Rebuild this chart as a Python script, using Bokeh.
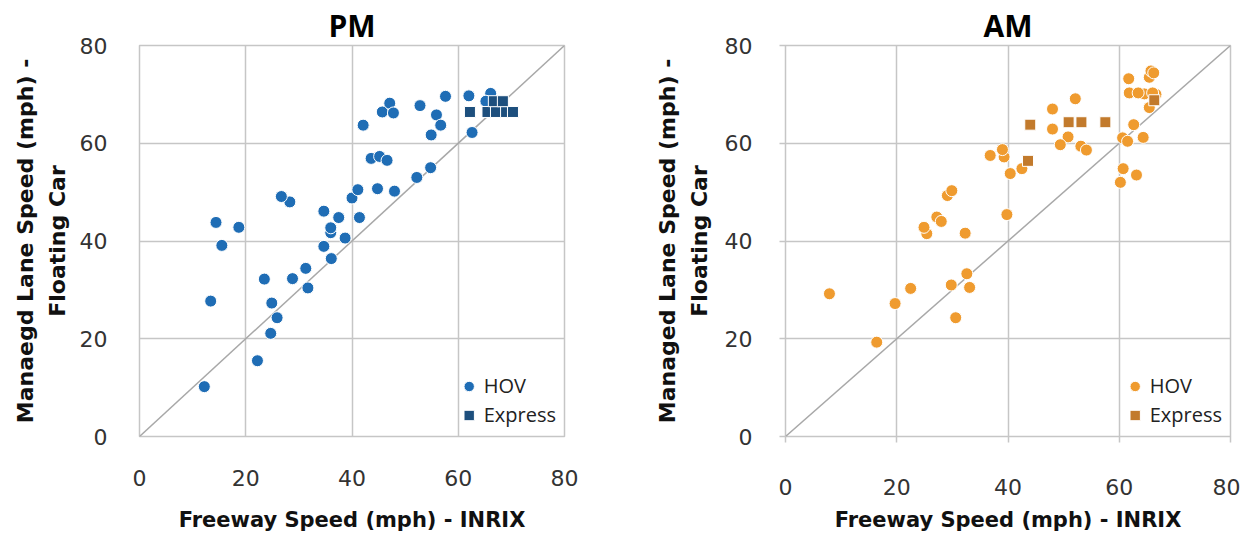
from bokeh.plotting import figure
from bokeh.layouts import row
from bokeh.models import Range1d, FixedTicker
from bokeh.embed import file_html
from bokeh.resources import INLINE

# ---------------- data ----------------
axis_ticks = [0, 20, 40, 60, 80]
ref_line = [0, 80]

pm_hov_x = [12.2, 22.2, 24.7, 25.9, 24.9, 13.4, 23.5, 28.8, 31.7, 31.3, 36.1, 34.7, 15.5,
            38.7, 36.0, 36.0, 18.7, 14.4, 37.5, 41.4, 34.7, 28.3, 26.7, 40.0, 41.1, 44.8,
            48.0, 52.2, 54.8, 43.6, 45.2, 46.6, 42.1, 45.7, 47.1, 47.8, 52.8, 55.9, 56.7,
            54.9, 57.6, 62.0, 62.6, 66.1, 65.2]
pm_hov_y = [10.2, 15.5, 21.1, 24.3, 27.3, 27.7, 32.2, 32.3, 30.4, 34.4, 36.4, 38.9, 39.1,
            40.6, 41.7, 42.7, 42.8, 43.8, 44.8, 44.8, 46.1, 48.0, 49.1, 48.8, 50.5, 50.7,
            50.2, 53.0, 55.0, 56.9, 57.3, 56.5, 63.7, 66.4, 68.2, 66.2, 67.7, 65.8, 63.7,
            61.7, 69.6, 69.7, 62.2, 70.2, 68.6]
pm_exp_x = [62.2, 65.5, 67.1, 69.0, 70.3, 66.7, 68.4]
pm_exp_y = [66.4, 66.4, 66.4, 66.4, 66.4, 68.6, 68.6]

am_hov_x = [7.9, 16.4, 19.7, 22.5, 29.8, 30.6, 33.1, 32.6, 32.3, 25.4, 24.9, 27.2, 28.0,
            29.1, 29.9, 39.8, 36.8, 39.3, 39.0, 40.4, 42.5, 48.0, 48.0, 50.8, 49.4, 52.1,
            53.1, 54.1, 60.2, 60.7, 63.1, 60.6, 61.5, 64.3, 62.6, 61.7, 61.8, 64.5, 66.6,
            65.4, 65.7, 66.2, 65.4, 63.4, 66.0]
am_hov_y = [29.2, 19.3, 27.2, 30.3, 31.0, 24.3, 30.5, 33.3, 41.6, 41.5, 42.8, 44.9, 44.0,
            49.3, 50.3, 45.4, 57.5, 57.2, 58.7, 53.8, 54.8, 67.0, 62.9, 61.3, 59.7, 69.1,
            59.4, 58.6, 52.0, 54.8, 53.5, 61.1, 60.4, 61.2, 63.8, 73.2, 70.3, 70.1, 70.0,
            73.5, 74.8, 74.4, 67.3, 70.3, 70.3]
am_exp_x = [44.0, 43.6, 50.9, 53.2, 57.5, 66.3]
am_exp_y = [63.8, 56.4, 64.3, 64.3, 64.3, 68.8]

GRID = "#C6C6C6"
TICK_FONT = "DejaVu Sans"
LABEL_FONT = "DejaVu Sans"


def make_fig(title, hx, hy, ex, ey, hcol, ecol, ylabel, width, height,
             bl, br, bt, bb, ticks_out, xstand, ystand, ylab_stand, xlab_stand):
    p = figure(width=width, height=height, x_range=Range1d(0, 80), y_range=Range1d(0, 80),
               output_backend="svg", toolbar_location=None, title=title,
               min_border_left=bl, min_border_right=br, min_border_top=bt,
               min_border_bottom=bb)
    p.title.align = "center"
    p.title.text_font = "Open Sans"
    p.title.text_font_size = "30px"
    p.title.text_font_style = "bold"
    p.title.text_color = "#000000"
    p.title.standoff = 0
    p.title.offset = 0

    for ax in (p.xaxis[0], p.yaxis[0]):
        ax.ticker = FixedTicker(ticks=axis_ticks)
        ax.axis_line_color = None
        ax.minor_tick_line_color = None
        if ticks_out:
            ax.major_tick_line_color = GRID
            ax.major_tick_line_width = 1.5
            ax.major_tick_out = 6
            ax.major_tick_in = 0
        else:
            ax.major_tick_line_color = None
            ax.major_tick_out = 0
            ax.major_tick_in = 0
        ax.major_label_text_font = TICK_FONT
        ax.major_label_text_font_size = "22px"
        ax.major_label_text_color = "#333333"
        ax.axis_label_text_font = LABEL_FONT
        ax.axis_label_text_font_style = "bold"
        ax.axis_label_text_color = "#111111"
    p.xaxis[0].axis_label_text_font_size = "21px"
    p.yaxis[0].axis_label_text_font_size = "22px"
    p.xaxis[0].major_label_standoff = xstand
    p.yaxis[0].major_label_standoff = ystand
    p.xaxis[0].axis_label = "Freeway Speed (mph) - INRIX"
    p.yaxis[0].axis_label = ylabel
    p.yaxis[0].axis_label_text_line_height = 1.25
    p.yaxis[0].axis_label_standoff = ylab_stand
    p.xaxis[0].axis_label_standoff = xlab_stand

    p.grid.grid_line_color = GRID
    p.grid.grid_line_width = 1.5
    p.outline_line_color = GRID
    p.outline_line_width = 1.5
    p.background_fill_color = "white"
    p.border_fill_color = "white"

    p.line(ref_line, ref_line, line_color="#A8A8A8", line_width=1.5)

    p.scatter(hx, hy, marker="circle", size=12, fill_color=hcol, line_color="white",
              line_width=1, legend_label="HOV")
    p.scatter(ex, ey, marker="square", size=11, fill_color=ecol, line_color="white",
              line_width=1, legend_label="Express")

    lg = p.legend[0]
    lg.location = "bottom_right"
    lg.background_fill_alpha = 0
    lg.border_line_alpha = 0
    lg.label_text_font = "Open Sans"
    lg.label_text_font_size = "20px"
    lg.label_text_color = "#222222"
    lg.glyph_width = 26
    lg.glyph_height = 26
    lg.label_height = 26
    lg.label_standoff = 2
    lg.spacing = 2
    lg.margin = 3
    lg.padding = 5
    return p


p1 = make_fig("PM", pm_hov_x, pm_hov_y, pm_exp_x, pm_exp_y, "#1F6DB5", "#1D4F7D",
              "Manaegd Lane Speed (mph) -\nFloating Car",
              width=620, height=534, bl=139, br=56, bt=44, bb=97,
              ticks_out=False, xstand=33, ystand=32, ylab_stand=7, xlab_stand=19)
p2 = make_fig("AM", am_hov_x, am_hov_y, am_exp_x, am_exp_y, "#EF9B2F", "#C27A2C",
              "Managed Lane Speed (mph) -\nFloating Car",
              width=620, height=534, bl=165, br=10, bt=45, bb=94,
              ticks_out=True, xstand=36, ystand=27, ylab_stand=10, xlab_stand=10)

layout = row(p1, p2)
open("out.html", "w").write(file_html(layout, INLINE))
